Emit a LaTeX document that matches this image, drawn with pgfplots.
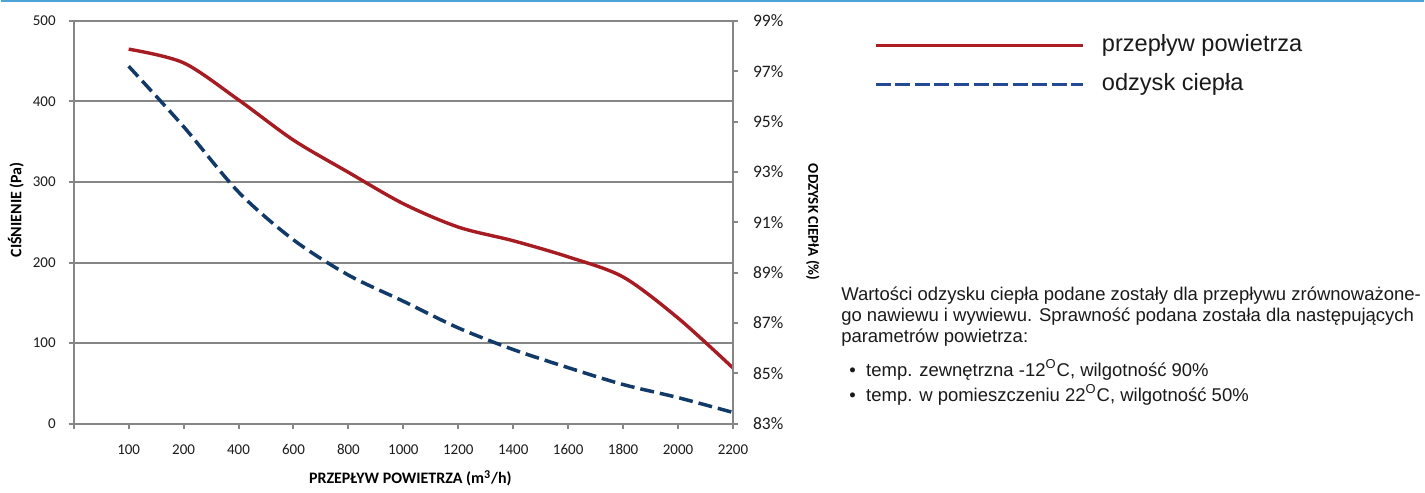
\documentclass[border=0pt]{standalone}
\usepackage{pgfplots}
\pgfplotsset{compat=1.18}
\usepackage{fontspec}
\setmainfont{Carlito}
\newfontfamily\arial{Liberation Sans}
\definecolor{gridgray}{RGB}{134,134,134}
\definecolor{redline}{RGB}{166,28,34}
\definecolor{blueline}{RGB}{18,58,104}
\definecolor{legred}{RGB}{172,30,36}
\definecolor{legblue}{RGB}{37,74,149}
\definecolor{topblue}{RGB}{75,163,216}
\definecolor{txt}{RGB}{26,26,26}

\pgfplotstableread{
x  p
1  465
2  448
3  402
4  352
5  312
6  273
7  244
8  227
9  207
10 182
11 131
12 69
}\pressure

\pgfplotstableread{
x  r
1  97.2
2  94.8
3  92.2
4  90.3
5  88.9
6  87.86
7  86.8
8  85.94
9  85.22
10 84.55
11 84.03
12 83.44
}\recovery

\begin{document}
\begin{tikzpicture}
\path (0pt,0pt) rectangle (712.5pt,245pt);
\draw[topblue, line width=0.8pt] (0pt,244.6pt) -- (712.5pt,244.6pt);

\begin{axis}[
  at={(36.5pt,33pt)}, anchor=south west,
  width=330pt, height=201.5pt, scale only axis,
  xmin=0, xmax=12, ymin=0, ymax=500,
  axis x line*=bottom, axis y line*=left,
  axis line style={gridgray, line width=1pt, -},
  xtick={0,...,12},
  xticklabels={,100,200,400,600,800,1000,1200,1400,1600,1800,2000,2200},
  ytick={0,100,200,300,400,500},
  yticklabels={0,100,200,300,400,500},
  ymajorgrids, grid style={gridgray, line width=1pt},
  tick style={gridgray, line width=1pt},
  tick align=outside, major tick length=2.5pt,
  ticklabel style={font=\fontsize{7.5pt}{9pt}\selectfont, text=txt},
  xticklabel style={yshift=-4.5pt},
  yticklabel style={xshift=-3pt},
  xlabel={PRZEPŁYW POWIETRZA (m\textsuperscript{3}/h)},
  xlabel style={font=\bfseries\fontsize{8pt}{9.6pt}\selectfont, at={(axis description cs:0.5106,-0.136)}, anchor=center},
  ylabel={CIŚNIENIE (Pa)},
  ylabel style={font=\bfseries\fontsize{8pt}{9.6pt}\selectfont, at={(axis description cs:-0.0879,0.531)}, anchor=center},
  clip=false,
]
\addplot[redline, line width=1.7pt, smooth, tension=0.5] table[x=x, y=p] {\pressure};
\end{axis}

\begin{axis}[
  at={(36.5pt,33pt)}, anchor=south west,
  width=330pt, height=201.5pt, scale only axis,
  xmin=0, xmax=12, ymin=83, ymax=99,
  axis x line=none, axis y line*=right,
  axis line style={gridgray, line width=1pt, -},
  ytick={83,85,87,89,91,93,95,97,99},
  yticklabels={83\%,85\%,87\%,89\%,91\%,93\%,95\%,97\%,99\%},
  tick style={gridgray, line width=1pt},
  tick align=outside, major tick length=2.5pt,
  yticklabel style={font=\fontsize{8.75pt}{10pt}\selectfont, text=txt, xshift=4pt},
  ylabel={ODZYSK CIEPłA (\%)},
  ylabel style={font=\bfseries\fontsize{7.5pt}{9pt}\selectfont, at={(axis description cs:1.1212,0.5)}, anchor=center, rotate=180},
  legend image code/.code={\draw[#1] (0pt,0pt) -- (104pt,0pt);},
  legend cell align=left,
  legend style={draw=none, fill=none, inner sep=0pt, at={(axis description cs:1.2136,0.8896)}, anchor=west,
    font=\arial\fontsize{11.8pt}{14pt}\selectfont, text=txt, row sep=7.5pt,
    nodes={inner sep=0pt, text height=9pt, text depth=3pt},
    /tikz/every odd column/.append style={column sep=8.5pt}},
  clip=false,
]
\addplot[blueline, line width=1.75pt, dash pattern=on 7pt off 3pt, smooth, tension=0.5, forget plot] table[x=x, y=r] {\recovery};
\addlegendimage{legred, line width=1.5pt}
\addlegendentry{przepływ powietrza}
\addlegendimage{legblue, line width=1.5pt, dash pattern=on 7.5pt off 2.3pt}
\addlegendentry{odzysk ciepła}
\end{axis}

\begin{scope}[every node/.style={inner sep=0pt, text=txt, font=\arial\fontsize{9.25pt}{10.5pt}\selectfont}]
\node[anchor=base west] at (420.5pt,94.5pt) {Wartości odzysku ciepła podane zostały dla przepływu zrównoważone-};
\node[anchor=base west] at (420.5pt,84pt) {go nawiewu i wywiewu. Sprawność podana została dla następujących};
\node[anchor=base west] at (420.5pt,73.5pt) {parametrów powietrza:};
\node[anchor=base west] at (424.5pt,56.5pt) {•};
\node[anchor=base west] at (433pt,56.5pt) {temp. zewnętrzna -12\textsuperscript{O}C, wilgotność 90\%};
\node[anchor=base west] at (424.5pt,44pt) {•};
\node[anchor=base west] at (433pt,44pt) {temp. w pomieszczeniu 22\textsuperscript{O}C, wilgotność 50\%};
\end{scope}
\end{tikzpicture}
\end{document}
